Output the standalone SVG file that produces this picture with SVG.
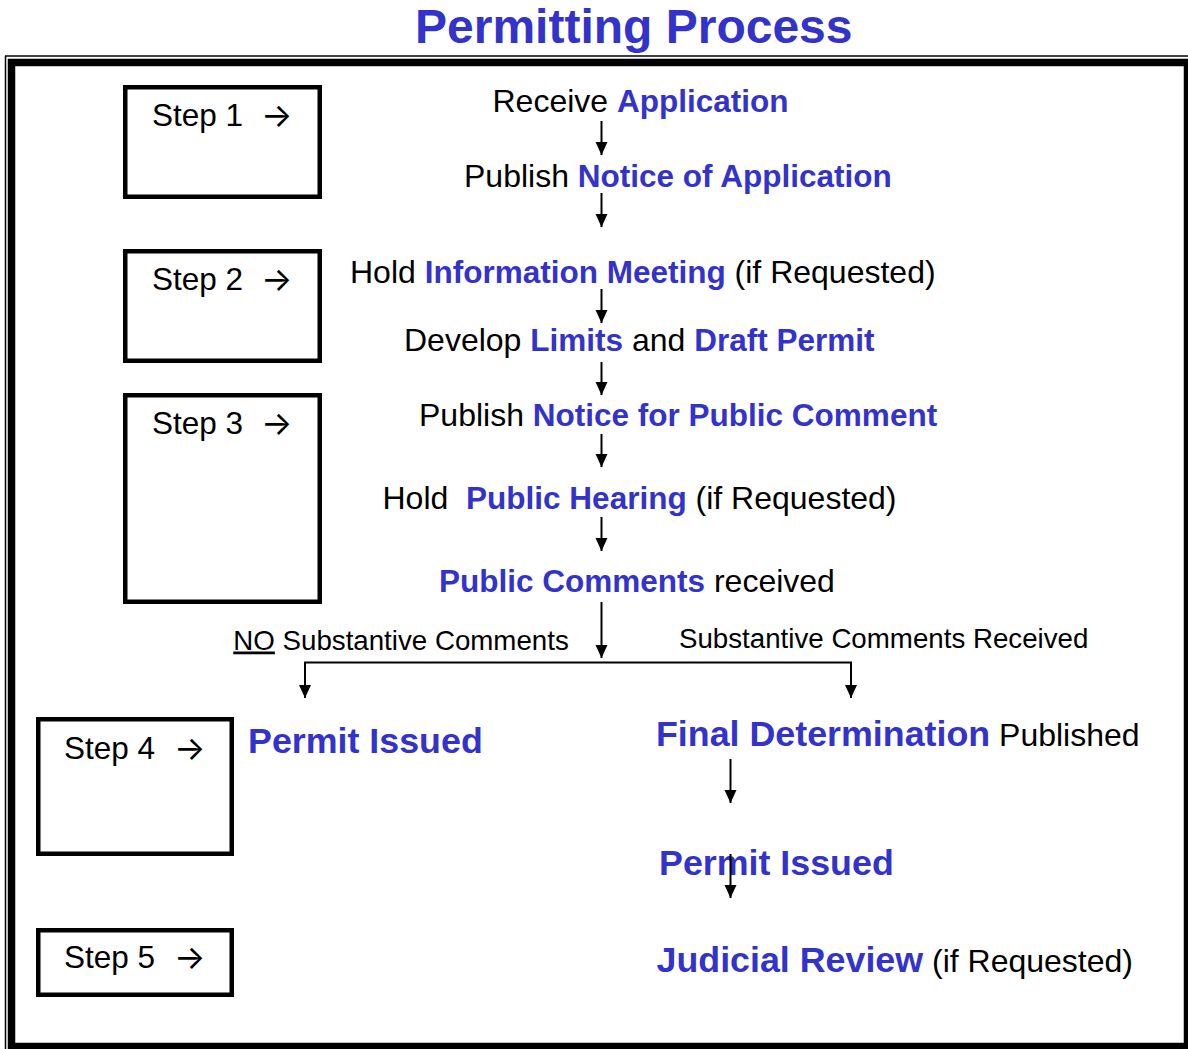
<svg xmlns="http://www.w3.org/2000/svg" width="1188" height="1049" viewBox="0 0 1188 1049">
<style>
  text { font-family: "Liberation Sans", Arial, sans-serif; fill: #000; }
  .t { font-size: 32px; }
  .b { font-weight: bold; fill: #3333CC; font-size: 31.5px; }
  .big { font-size: 35.8px; font-weight: bold; fill: #3333CC; }
  .sm { font-size: 27.7px; }
  .box { fill: #fff; stroke: #000; stroke-width: 4.5; }
  .conn { stroke: #000; stroke-width: 2; fill: none; }
  .step { font-size: 31.5px; }
  .arr { font-family: Inter, "DejaVu Sans", sans-serif; font-size: 33px; }
</style>
<defs>
  <marker id="ah" markerUnits="userSpaceOnUse" markerWidth="14" markerHeight="14" viewBox="0 0 14 12" refX="13" refY="6" orient="auto">
    <path d="M0,0 L13,6 L0,12 z" fill="#000"/>
  </marker>
</defs>
<rect width="1188" height="1049" fill="#fff"/>
<text x="415" y="43" style="font-size:48px;font-weight:bold;fill:#3333CC">Permitting Process</text>
<g id="frame">
  <rect x="11.5" y="62.5" width="1176" height="984" fill="none" stroke="#000" stroke-width="7.5"/>
  <line x1="5.5" y1="56" x2="5.5" y2="1049" stroke="#000" stroke-width="1.5"/>
  <line x1="5" y1="56" x2="1188" y2="56" stroke="#000" stroke-width="1.5"/>
</g>
<g id="step1"><rect class="box" x="125.25" y="87.25" width="194.5" height="109.5"/><text class="step" x="152" y="126">Step 1</text><text class="arr" x="261" y="127">→</text></g>
<g id="step2"><rect class="box" x="125.25" y="251.25" width="194.5" height="109.5"/><text class="step" x="152" y="290">Step 2</text><text class="arr" x="261" y="291">→</text></g>
<g id="step3"><rect class="box" x="125.25" y="395.25" width="194.5" height="206.5"/><text class="step" x="152" y="434">Step 3</text><text class="arr" x="261" y="435">→</text></g>
<g id="step4"><rect class="box" x="38.25" y="719.25" width="193.5" height="134.5"/><text class="step" x="64" y="759">Step 4</text><text class="arr" x="174" y="760">→</text></g>
<g id="step5"><rect class="box" x="38.25" y="930.25" width="193.5" height="64.5"/><text class="step" x="64" y="968">Step 5</text><text class="arr" x="174" y="969">→</text></g>
<g id="receive"><text class="t" x="492.5" y="112">Receive <tspan class="b">Application</tspan></text></g>
<g id="notice-app"><text class="t" x="464" y="187">Publish <tspan class="b">Notice of Application</tspan></text></g>
<g id="info-meeting"><text class="t" x="350" y="282.5">Hold <tspan class="b">Information Meeting</tspan> (if Requested)</text></g>
<g id="draft-permit"><text class="t" x="404" y="351">Develop <tspan class="b">Limits</tspan> and <tspan class="b">Draft Permit</tspan></text></g>
<g id="notice-comment"><text class="t" x="419" y="425.5">Publish <tspan class="b">Notice for Public Comment</tspan></text></g>
<g id="hearing"><text class="t" x="382.5" y="508.5" xml:space="preserve">Hold  <tspan class="b">Public Hearing</tspan> (if Requested)</text></g>
<g id="comments"><text class="t" x="439" y="592"><tspan class="b">Public Comments</tspan> received</text></g>
<g id="no-subst"><text class="sm" x="233.3" y="649.5"><tspan text-decoration="underline">NO</tspan> Substantive Comments</text></g>
<g id="subst"><text class="sm" x="679" y="648">Substantive Comments Received</text></g>
<g id="permit-left"><text class="big" x="248" y="753">Permit Issued</text></g>
<g id="final-det"><text x="656" y="746"><tspan class="big">Final Determination</tspan><tspan class="t"> Published</tspan></text></g>
<g id="permit-right"><text class="big" x="659" y="875">Permit Issued</text></g>
<g id="judicial"><text x="656.5" y="972"><tspan class="big">Judicial Review</tspan><tspan class="t"> (if Requested)</tspan></text></g>
<g id="connectors">
  <line class="conn" x1="601.5" y1="121" x2="601.5" y2="155" marker-end="url(#ah)"/>
  <line class="conn" x1="601.5" y1="193" x2="601.5" y2="227" marker-end="url(#ah)"/>
  <line class="conn" x1="601.5" y1="289" x2="601.5" y2="323" marker-end="url(#ah)"/>
  <line class="conn" x1="601.5" y1="362" x2="601.5" y2="395" marker-end="url(#ah)"/>
  <line class="conn" x1="601.5" y1="434" x2="601.5" y2="467" marker-end="url(#ah)"/>
  <line class="conn" x1="601.5" y1="517" x2="601.5" y2="551" marker-end="url(#ah)"/>
  <line class="conn" x1="601.5" y1="602" x2="601.5" y2="658" marker-end="url(#ah)"/>
  <line class="conn" x1="304" y1="662.5" x2="852" y2="662.5" stroke-width="2.5"/>
  <line class="conn" x1="305" y1="662" x2="305" y2="698" marker-end="url(#ah)"/>
  <line class="conn" x1="851" y1="662" x2="851" y2="698" marker-end="url(#ah)"/>
  <line class="conn" x1="730.5" y1="759" x2="730.5" y2="803" marker-end="url(#ah)"/>
  <line class="conn" x1="730.5" y1="854" x2="730.5" y2="898" marker-end="url(#ah)"/>
</g>
</svg>
